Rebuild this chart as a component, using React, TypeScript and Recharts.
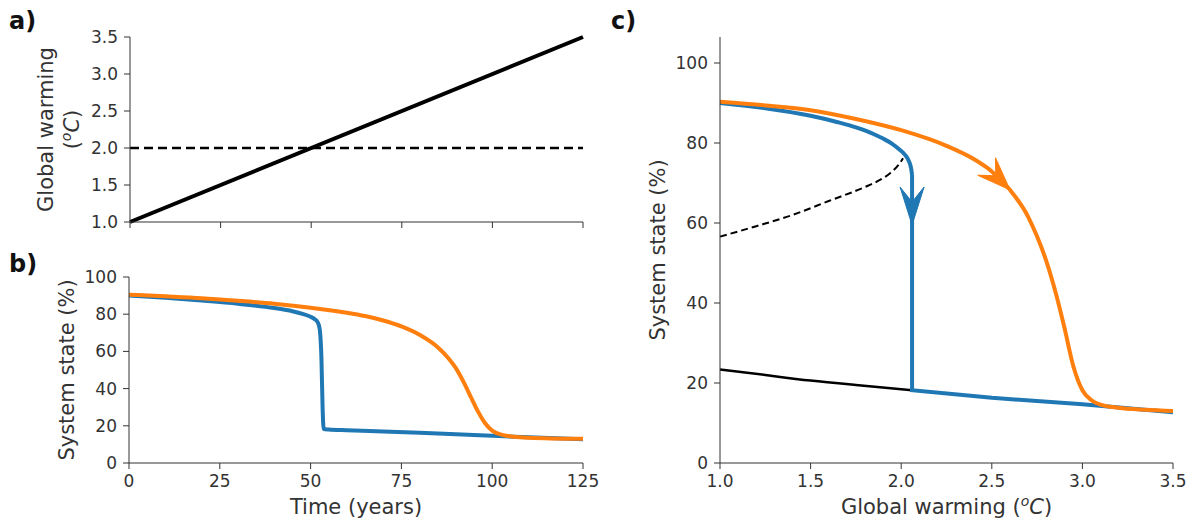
import { Label, Line, LineChart, ReferenceDot, ReferenceLine, XAxis, YAxis } from 'recharts'

const BLUE = '#1f77b4'
const ORANGE = '#ff7f0e'
const INK = '#333333'
const FONT = 'DejaVu Sans, sans-serif'

// ticks
const timeTicks = [0, 25, 50, 75, 100, 125]
const warmingTicks = [1.0, 1.5, 2.0, 2.5, 3.0, 3.5]
const stateTicks = [0, 20, 40, 60, 80, 100]

// a) warming ramp
const rampYears = [0, 125]
const rampWarming = [1.0, 3.5]
const warmingThreshold = 2.0

// b) system state over time
const fastYears = [0, 10, 20, 30, 40, 45, 48, 50, 51, 52, 52.5, 53, 53.3, 53.6, 55, 60, 70, 80, 90, 100, 110, 125]
const fastState = [90, 88.8, 87.3, 85.6, 83.3, 81.6, 80.0, 78.6, 77.5, 75.5, 72, 55, 30, 18.3, 18.0, 17.6, 16.9, 16.2, 15.4, 14.6, 13.8, 12.8]
const slowYears = [0, 10, 20, 30, 40, 50, 60, 65, 70, 75, 80, 85, 88, 90, 92, 94, 96, 98, 100, 103, 106, 110, 125]
const slowState = [90.5, 89.6, 88.6, 87.2, 85.6, 83.5, 80.8, 79.0, 76.6, 73.4, 68.9, 62.2, 56.2, 51, 44, 36, 28, 21.5, 17.4, 15.0, 14.1, 13.6, 13.0]

// c) system state against warming
const fastWarming = [1.0, 1.25, 1.5, 1.65, 1.75, 1.85, 1.9, 1.95, 1.99, 2.02, 2.04, 2.055, 2.06, 2.06, 2.06, 2.5, 3.0, 3.5]
const fastStateC = [90, 88.7, 86.8, 85.2, 83.9, 82.2, 81.1, 79.8, 78.4, 77.1, 75.7, 73.6, 72, 62, 18.2, 16.3, 14.7, 12.7]
const slowWarming = [1.0, 1.25, 1.5, 1.75, 2.0, 2.25, 2.4, 2.5, 2.6, 2.7, 2.75, 2.8, 2.85, 2.9, 2.95, 3.0, 3.05, 3.1, 3.2, 3.35, 3.5]
const slowStateC = [90.3, 89.4, 88.2, 86.0, 83.2, 79.3, 76, 72.9, 68.3, 61.6, 56.6, 50.6, 43, 34, 24.2, 18.2, 15.7, 14.6, 13.8, 13.3, 13.0]
const unstableWarming = [1.0, 1.2, 1.4, 1.6, 1.8, 1.88, 1.94, 1.99, 2.01]
const unstableState = [56.6, 59.2, 62.0, 65.5, 69.0, 70.7, 72.5, 74.8, 76.2]
const lowerWarming = [1.0, 1.25, 1.5, 1.75, 2.06]
const lowerState = [23.4, 22.0, 20.6, 19.5, 18.2]

// arrow tips on the trajectories in c)
const arrowWarming = [2.06, 2.6]
const arrowState = [59.5, 68.3]

const pts = (xs: number[], ys: number[]) => xs.map((x, i) => ({ x, y: ys[i] }))

// the blue trajectory in c) bends smoothly, then drops straight down
const fastC = pts(fastWarming, fastStateC)
const dropAt = fastWarming.indexOf(2.06)
const fastUpper = fastC.slice(0, dropAt + 1)
const fastDrop = fastC.slice(dropAt)

const tickStyle = { fill: INK, fontSize: 17, fontFamily: FONT }
const axisProps = {
  axisLine: { stroke: INK },
  tickLine: { stroke: INK },
  tickSize: 6,
  tick: tickStyle,
}

const Degrees = () => (
  <>
    (<tspan dy={-8} fontSize={14} fontStyle="italic">o</tspan>
    <tspan dy={8} fontStyle="italic">C</tspan>)
  </>
)

const yTitle = (lines: React.ReactNode[], baselines: number[]) => (props: any) => {
  const vb = props.viewBox
  const cy = vb.y + vb.height / 2
  return (
    <g>
      {lines.map((line, i) => (
        <text key={i} x={baselines[i]} y={cy} transform={`rotate(-90, ${baselines[i]}, ${cy})`}
          textAnchor="middle" fill={INK} fontSize={21} fontFamily={FONT}>
          {line}
        </text>
      ))}
    </g>
  )
}

const xTitle = (content: React.ReactNode) => (props: any) => {
  const vb = props.viewBox
  return (
    <text x={vb.x + vb.width / 2} y={vb.y + 51} textAnchor="middle" fill={INK} fontSize={21} fontFamily={FONT}>
      {content}
    </text>
  )
}

const arrowShape = (color: string, angle: number, len: number, wid: number, notch: number) => (props: any) => {
  const { cx, cy } = props
  return (
    <path
      d={`M0,0 L${-len},${-wid / 2} L${-len + notch},0 L${-len},${wid / 2} Z`}
      transform={`translate(${cx},${cy}) rotate(${angle})`}
      fill={color}
      stroke={color}
      strokeWidth={1}
    />
  )
}

const W = 4

export default function App() {
  return (
    <div style={{ position: 'absolute', left: 0, top: 0, width: 1198, height: 524, background: '#fff' }}>
      <div style={{ position: 'absolute', left: 0, top: 0 }}>
        <LineChart width={600} height={250} margin={{ top: 37, right: 17, bottom: 0, left: 0 }}>
          <XAxis type="number" dataKey="x" domain={[0, 125]} ticks={timeTicks} height={28}
            tickFormatter={() => ''} {...axisProps} />
          <YAxis type="number" domain={[1, 3.5]} ticks={warmingTicks} width={130} tickMargin={6}
            tickFormatter={(v: number) => v.toFixed(1)} {...axisProps}>
            <Label content={yTitle(['Global warming', <Degrees key="d" />], [53, 79])} />
          </YAxis>
          <ReferenceLine y={warmingThreshold} stroke="#000" strokeWidth={2.5} strokeDasharray="9 5" />
          <Line data={pts(rampYears, rampWarming)} dataKey="y" stroke="#000" strokeWidth={W}
            dot={false} isAnimationActive={false} type="linear" />
        </LineChart>
      </div>

      <div style={{ position: 'absolute', left: 0, top: 240 }}>
        <LineChart width={600} height={284} margin={{ top: 37, right: 17, bottom: 0, left: 0 }}>
          <XAxis type="number" dataKey="x" domain={[0, 125]} ticks={timeTicks} height={61}
            tickMargin={6} {...axisProps}>
            <Label content={xTitle('Time (years)')} />
          </XAxis>
          <YAxis type="number" domain={[0, 100]} ticks={stateTicks} width={129} tickMargin={6} {...axisProps}>
            <Label content={yTitle(['System state (%)'], [74])} />
          </YAxis>
          <Line data={pts(fastYears, fastState)} dataKey="y" stroke={BLUE} strokeWidth={W}
            dot={false} isAnimationActive={false} type="monotone" />
          <Line data={pts(slowYears, slowState)} dataKey="y" stroke={ORANGE} strokeWidth={W}
            dot={false} isAnimationActive={false} type="monotone" />
        </LineChart>
      </div>

      <div style={{ position: 'absolute', left: 600, top: 0 }}>
        <LineChart width={598} height={524} margin={{ top: 37, right: 25, bottom: 0, left: 0 }}>
          <XAxis type="number" dataKey="x" domain={[1, 3.5]} ticks={warmingTicks} height={61}
            tickMargin={6} tickFormatter={(v: number) => v.toFixed(1)} {...axisProps}>
            <Label content={xTitle(<>Global warming <Degrees /></>)} />
          </XAxis>
          <YAxis type="number" domain={[0, 106.5]} ticks={stateTicks} width={120} tickMargin={6} {...axisProps}>
            <Label content={yTitle(['System state (%)'], [65])} />
          </YAxis>
          <Line data={pts(lowerWarming, lowerState)} dataKey="y" stroke="#000" strokeWidth={2.5}
            dot={false} isAnimationActive={false} type="natural" />
          <Line data={pts(unstableWarming, unstableState)} dataKey="y" stroke="#000" strokeWidth={2}
            strokeDasharray="7 4" dot={false} isAnimationActive={false} type="monotone" />
          <Line data={fastUpper} dataKey="y" stroke={BLUE} strokeWidth={W}
            dot={false} isAnimationActive={false} type="monotone" />
          <Line data={fastDrop} dataKey="y" stroke={BLUE} strokeWidth={W}
            dot={false} isAnimationActive={false} type="linear" />
          <Line data={pts(slowWarming, slowStateC)} dataKey="y" stroke={ORANGE} strokeWidth={W}
            dot={false} isAnimationActive={false} type="monotone" />
          <ReferenceDot x={arrowWarming[0]} y={arrowState[0]} shape={arrowShape(BLUE, 90, 38, 24, 15)} />
          <ReferenceDot x={arrowWarming[1]} y={arrowState[1]} shape={arrowShape(ORANGE, 45, 33, 25, 13)} />
        </LineChart>
      </div>

      <svg width={1198} height={524} style={{ position: 'absolute', left: 0, top: 0, pointerEvents: 'none' }}>
        <text x={9} y={29} fontSize={24} fontWeight="bold" fontFamily={FONT} fill="#111">a)</text>
        <text x={9} y={272} fontSize={24} fontWeight="bold" fontFamily={FONT} fill="#111">b)</text>
        <text x={611} y={29} fontSize={24} fontWeight="bold" fontFamily={FONT} fill="#111">c)</text>
      </svg>
    </div>
  )
}
